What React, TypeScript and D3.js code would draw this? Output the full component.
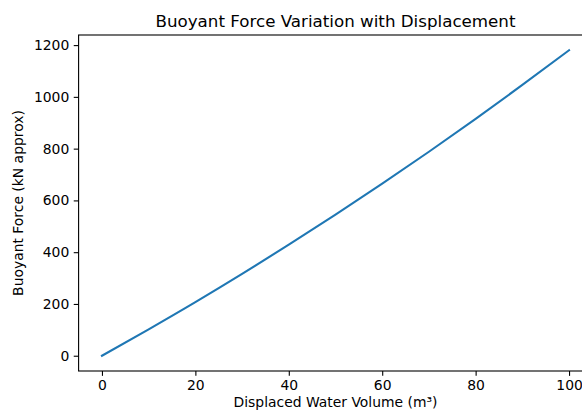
import React, { useEffect, useRef } from 'react';
import * as d3 from 'd3';

const volumes = [0, 10, 20, 30, 40, 50, 60, 70, 80, 90, 100];
const forces = [0, 102, 207, 316, 429, 545, 665, 788, 915, 1046, 1180];
const xTicks = [0, 20, 40, 60, 80, 100];
const yTicks = [0, 200, 400, 600, 800, 1000, 1200];

const App: React.FC = () => {
  const svgRef = useRef<SVGSVGElement>(null);

  useEffect(() => {
    if (!svgRef.current) return;
    const svg = d3.select(svgRef.current);
    svg.selectAll('*').remove();

    const width = 582;
    const height = 410;
    const left = 78.6;
    const right = 592.4;
    const top = 35;
    const bottom = 371;
    const font = '"DejaVu Sans", sans-serif';

    const x = d3.scaleLinear().domain([-5, 105]).range([left, right]);
    const y = d3.scaleLinear().domain([-59, 1239]).range([bottom, top]);

    svg.attr('width', width).attr('height', height);

    svg.append('rect')
      .attr('width', width)
      .attr('height', height)
      .attr('fill', '#ffffff');

    // line
    const line = d3.line<number>()
      .x((_, i) => x(volumes[i]))
      .y(d => y(d))
      .curve(d3.curveMonotoneX);

    svg.append('path')
      .datum(forces)
      .attr('d', line)
      .attr('fill', 'none')
      .attr('stroke', '#1f77b4')
      .attr('stroke-width', 2.08)
      .attr('stroke-linecap', 'square');

    // axes
    const fmt = d3.format('d');
    const xAxis = svg.append('g')
      .attr('transform', `translate(0,${bottom})`)
      .call(d3.axisBottom(x).tickValues(xTicks).tickFormat(fmt as any).tickSize(4.86).tickPadding(4.5));
    const yAxis = svg.append('g')
      .attr('transform', `translate(${left},0)`)
      .call(d3.axisLeft(y).tickValues(yTicks).tickFormat(fmt as any).tickSize(4.86).tickPadding(4.5));

    [xAxis, yAxis].forEach(a => {
      a.select('.domain').remove();
      a.selectAll('line').attr('stroke', '#000').attr('stroke-width', 1.1);
      a.selectAll('text')
        .attr('fill', '#000')
        .style('font-family', font)
        .style('font-size', '13.9px');
    });

    // spines
    svg.append('rect')
      .attr('x', left)
      .attr('y', top)
      .attr('width', right - left)
      .attr('height', bottom - top)
      .attr('fill', 'none')
      .attr('stroke', '#000')
      .attr('stroke-width', 1.1);

    // title
    svg.append('text')
      .attr('x', (left + right) / 2)
      .attr('y', 27)
      .attr('text-anchor', 'middle')
      .style('font-family', font)
      .style('font-size', '16.7px')
      .text('Buoyant Force Variation with Displacement');

    // axis labels
    svg.append('text')
      .attr('x', (left + right) / 2)
      .attr('y', 407)
      .attr('text-anchor', 'middle')
      .style('font-family', font)
      .style('font-size', '13.9px')
      .text('Displaced Water Volume (m³)');

    svg.append('text')
      .attr('transform', `translate(23,${(top + bottom) / 2}) rotate(-90)`)
      .attr('text-anchor', 'middle')
      .style('font-family', font)
      .style('font-size', '13.9px')
      .text('Buoyant Force (kN approx)');
  }, []);

  return <svg ref={svgRef} style={{ position: 'absolute', left: 0, top: 0 }}></svg>;
};

export default App;
